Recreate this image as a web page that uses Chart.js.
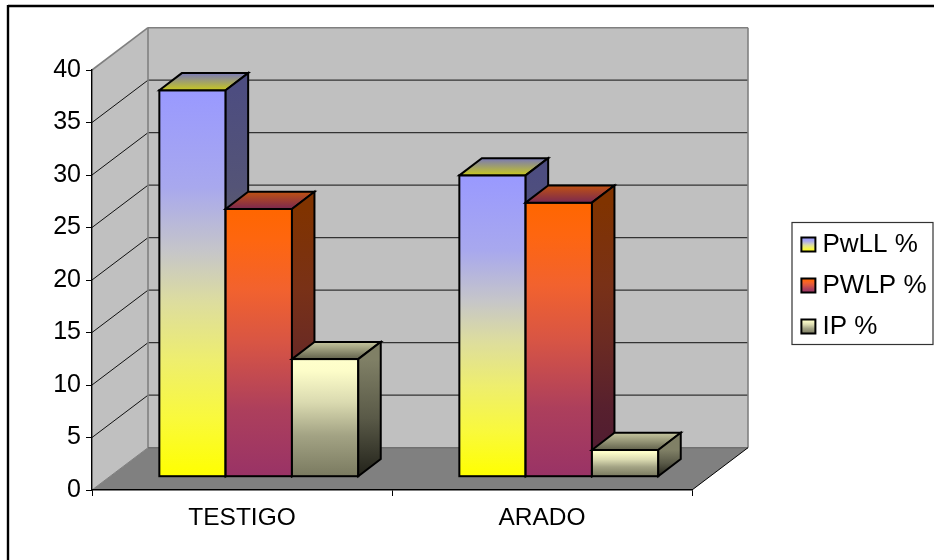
<!DOCTYPE html>
<html>
<head>
<meta charset="utf-8">
<style>html,body{margin:0;padding:0;background:#fff}canvas{display:block}</style>
<script src="https://cdn.jsdelivr.net/npm/chart.js@4"></script>
</head>
<body>
<canvas id="c" width="934" height="560"></canvas>
<script>
const categories = ['TESTIGO', 'ARADO'];
const seriesNames = ['PwLL %', 'PWLP %', 'IP %'];
const pwll = [36.8, 28.7];
const pwlp = [25.5, 26.1];
const ip = [11.2, 2.55];
const yMax = 40;
const yStep = 5;

const FRONT = [
  [[0, '#9999ff'], [.25, '#a8a8ee'], [.42, '#c6c6c8'], [.55, '#dddd9e'], [.7, '#eeee6e'], [.85, '#f9f93c'], [1, '#ffff00']],
  [[0, '#ff6600'], [.12, '#fe6610'], [.3, '#f2622e'], [.5, '#d85544'], [.75, '#ad3f5c'], [1, '#993366']],
  [[0, '#ffffcc'], [.1, '#fdfdc9'], [.37, '#dadab0'], [.65, '#a3a384'], [1, '#7a7a60']]
];
const TOP = [
  [[0, '#7878b8'], [1, '#c8c81e']],
  [[0, '#c05212'], [1, '#7a2850']],
  [[0, '#c8c8a0'], [1, '#62624c']]
];
const SIDE = [
  [[0, '#4d4d80'], [.25, '#545477'], [.42, '#636364'], [.55, '#6f6f4f'], [.7, '#777737'], [.85, '#7d7d1e'], [1, '#808000']],
  [[0, '#803300'], [.3, '#793117'], [.5, '#6c2b22'], [.75, '#57202e'], [1, '#4d1a33']],
  [[0, '#808066'], [.5, '#5a5a48'], [1, '#22221a']]
];
const SHIFT = [16.8, -13.3];
const DEPTH = [22.5, -17.2];
const WALL = [56, -42.3];

function grad(c, x0, y0, x1, y1, stops) {
  const g = c.createLinearGradient(x0, y0, x1, y1);
  stops.forEach(s => g.addColorStop(s[0], s[1]));
  return g;
}
function poly(c, pts, fill, stroke, lw) {
  c.beginPath();
  pts.forEach((p, i) => i ? c.lineTo(p[0], p[1]) : c.moveTo(p[0], p[1]));
  c.closePath();
  if (fill) { c.fillStyle = fill; c.fill(); }
  if (stroke) { c.strokeStyle = stroke; c.lineWidth = lw; c.stroke(); }
}
function seg(c, x0, y0, x1, y1, col, lw) {
  c.beginPath(); c.moveTo(x0, y0); c.lineTo(x1, y1);
  c.strokeStyle = col; c.lineWidth = lw; c.stroke();
}

const LEG_LEFT = 792.3, LEG_TOP = 216.5, ROW = 41;

const scene3d = {
  id: 'scene3d',
  afterInit(chart) {
    const lg = chart.legend, f = lg.fit;
    lg.fit = function () { f.call(this); this.width = 242; };
  },
  afterLayout(chart) {
    const lg = chart.legend;
    lg.left = LEG_LEFT; lg.right = 934; lg.top = LEG_TOP; lg.bottom = 560;
    lg.width = 934 - LEG_LEFT; lg.height = 560 - LEG_TOP;
  },
  beforeDraw(chart) {
    const c = chart.ctx, a = chart.chartArea, y = chart.scales.y;
    const [dx, dy] = WALL;
    c.save();
    c.fillStyle = '#fff'; c.fillRect(0, 0, 934, 560);
    seg(c, 8, 6, 934, 6, '#000', 2.4);
    seg(c, 8, 5, 8, 560, '#000', 2.4);
    poly(c, [[a.left, a.top], [a.left + dx, a.top + dy], [a.left + dx, a.bottom + dy], [a.left, a.bottom]], '#c0c0c0');
    poly(c, [[a.left + dx, a.top + dy], [a.right + dx, a.top + dy], [a.right + dx, a.bottom + dy], [a.left + dx, a.bottom + dy]], '#c0c0c0');
    poly(c, [[a.left, a.bottom], [a.left + dx, a.bottom + dy], [a.right + dx, a.bottom + dy], [a.right, a.bottom]], '#808080');
    y.ticks.forEach(t => {
      if (t.value === 0 || t.value === yMax) return;
      const p = y.getPixelForValue(t.value);
      seg(c, a.left, p, a.left + dx, p + dy, '#111', 1);
      seg(c, a.left + dx, p + dy, a.right + dx, p + dy, '#333', 1.2);
    });
    c.lineJoin = 'miter';
    seg(c, a.left, a.top, a.left + dx, a.top + dy, '#808080', 1.6);
    seg(c, a.left + dx, a.top + dy, a.right + dx, a.top + dy, '#808080', 1.6);
    seg(c, a.left + dx, a.top + dy, a.left + dx, a.bottom + dy, '#808080', 1.6);
    seg(c, a.right + dx, a.top + dy, a.right + dx, a.bottom + dy, '#808080', 1.6);
    seg(c, a.left + dx, a.bottom + dy, a.right + dx, a.bottom + dy, '#707070', 1.6);
    seg(c, a.left, a.bottom, a.left + dx, a.bottom + dy, '#808080', 1);
    seg(c, a.right, a.bottom, a.right + dx, a.bottom + dy, '#000', 1);
    c.restore();
  },
  beforeDatasetsDraw(chart) {
    const c = chart.ctx;
    const [sx, sy] = SHIFT, [ddx, ddy] = DEPTH;
    chart.data.datasets.forEach((ds, di) => {
      chart.getDatasetMeta(di).data.forEach(el => {
        const { x, y, base, width } = el.getProps(['x', 'y', 'base', 'width'], true);
        const l = x - width / 2 + sx, r = x + width / 2 + sx, t = y + sy, b = base + sy;
        c.save();
        c.lineJoin = 'miter';
        c.save();
        c.translate(sx, sy);
        // gradient coordinates live in the translated space
        el.options = Object.assign({}, el.options, { backgroundColor: grad(c, 0, y, 0, base, FRONT[di]) });
        el.draw(c);
        c.restore();
        c.strokeStyle = '#000'; c.lineWidth = 2;
        c.strokeRect(l, t, r - l, b - t);
        poly(c, [[l, t], [l + ddx, t + ddy], [r + ddx, t + ddy], [r, t]],
          grad(c, 0, t + ddy, 0, t, TOP[di]), '#000', 2);
        poly(c, [[r, t], [r + ddx, t + ddy], [r + ddx, b + ddy], [r, b]],
          grad(c, 0, t, 0, b, SIDE[di]), '#000', 2);
        c.restore();
      });
    });
    return false;
  },
  afterDraw(chart) {
    const c = chart.ctx;
    c.save();
    c.strokeStyle = '#333'; c.lineWidth = 1.2;
    c.strokeRect(792, 222.5, 141, 122);
    c.restore();
  }
};

const seriesValues = [pwll, pwlp, ip];
const chart = new Chart(document.getElementById('c'), {
  type: 'bar',
  data: {
    labels: categories,
    datasets: seriesNames.map((name, i) => ({
      label: name,
      data: seriesValues[i],
      borderWidth: 0,
      inflateAmount: 0,
      categoryPercentage: 0.663,
      barPercentage: 1,
      backgroundColor: FRONT[i][0][1]
    }))
  },
  options: {
    responsive: false,
    animation: false,
    events: [],
    layout: { padding: { left: 0, top: 70, right: 0, bottom: 0 } },
    plugins: {
      tooltip: { enabled: false },
      title: { display: false },
      legend: {
        display: true,
        position: 'right',
        align: 'start',
        labels: {
          color: '#000',
          font: { family: '"Liberation Sans", Arial, sans-serif', size: 26 },
          padding: 15,
          boxWidth: 2.2,
          boxHeight: 14,
          usePointStyle: true,
          generateLabels(ch) {
            return ch.data.datasets.map((d, i) => {
              const cy = LEG_TOP + 15 + 13 + i * ROW;
              return {
                text: d.label,
                fillStyle: grad(ch.ctx, 0, cy - 7, 0, cy + 7, FRONT[i]),
                strokeStyle: '#000',
                lineWidth: 2,
                pointStyle: 'rect',
                hidden: false,
                datasetIndex: i
              };
            });
          }
        }
      }
    },
    scales: {
      x: {
        afterFit(s) { s.height = 70; },
        grid: { color: '#000', drawOnChartArea: false, tickLength: 6, lineWidth: 1 },
        border: { color: '#000', width: 1.4 },
        ticks: { color: '#000', padding: 8, maxRotation: 0, font: { family: '"Liberation Sans", Arial, sans-serif', size: 24.5 } }
      },
      y: {
        min: 0,
        max: yMax,
        afterFit(s) { s.width = 92; },
        grid: { color: '#000', drawOnChartArea: false, tickLength: 6, lineWidth: 1 },
        border: { color: '#000', width: 1.4 },
        ticks: { stepSize: yStep, color: '#000', padding: 5, font: { family: '"Liberation Sans", Arial, sans-serif', size: 25 } }
      }
    }
  },
  plugins: [scene3d]
});
</script>
</body>
</html>
